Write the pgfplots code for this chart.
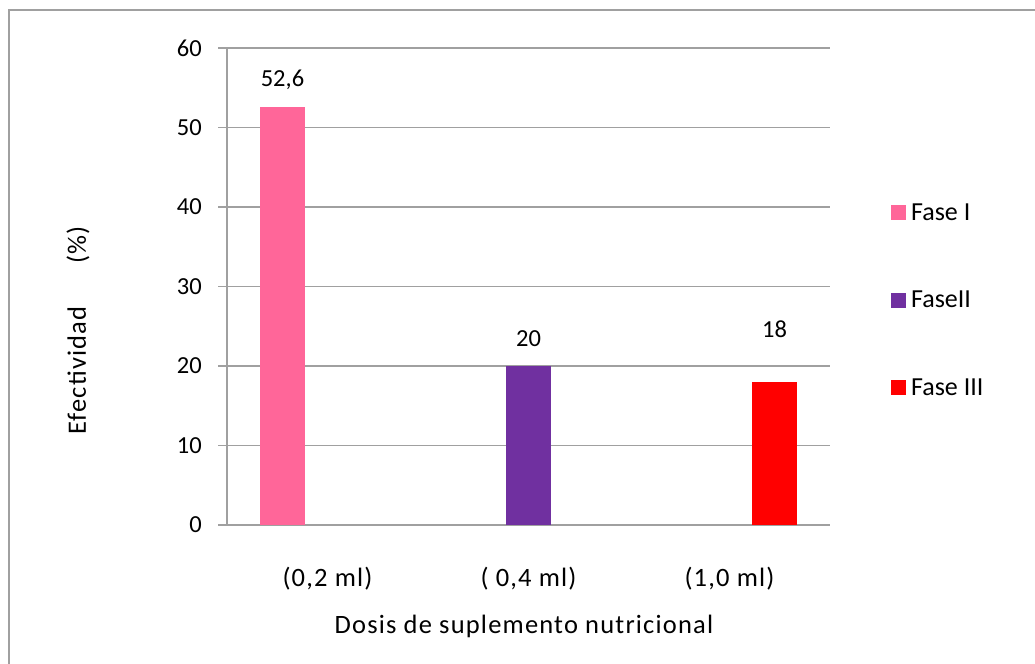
\documentclass[border=0pt]{standalone}
\usepackage{pgfplots}
\pgfplotsset{compat=1.18}
\usepackage{fontspec}
\setmainfont{Carlito}
\newfontfamily\spacedfont{Carlito}[LetterSpace=4.5]
\definecolor{faseI}{RGB}{255,102,153}
\definecolor{faseII}{RGB}{112,48,160}
\definecolor{faseIII}{RGB}{255,0,0}
\definecolor{gridgray}{RGB}{160,160,160}
\newcommand{\numfont}{\fontsize{24.5bp}{28bp}\selectfont}
\newcommand{\txtfont}{\spacedfont\fontsize{26.5bp}{30bp}\selectfont}
\newcommand{\legfont}{\fontsize{26bp}{30bp}\selectfont}
\begin{document}
\begin{tikzpicture}[x=1bp,y=1bp]
\useasboundingbox (0,0) rectangle (1035,664);
% outer chart border (top and left edges)
\draw[gridgray, line width=1.5bp] (9,0) -- (9,654) -- (1035,654);
\begin{axis}[
  at={(227bp,139bp)}, anchor=south west,
  scale only axis, width=603bp, height=477bp,
  xmin=-0.5, xmax=2.5, ymin=0, ymax=60,
  ytick={0,10,...,60},
  xtick={0,1,2},
  xticklabels={(0,2 ml),( 0,4 ml),(1,0 ml)},
  axis x line*=bottom, axis y line*=left,
  axis line style={gridgray, line width=1.2bp, -},
  ymajorgrids, grid style={gridgray, line width=1.2bp},
  tick align=outside, major tick length=9bp,
  ytick style={gridgray, line width=1.2bp},
  xtick style={draw=none},
  /pgf/number format/assume math mode=true,
  /pgf/number format/use comma,
  yticklabel style={font=\numfont, text=black, anchor=east, inner sep=0pt, xshift=-16bp},
  xticklabel style={font=\txtfont, text=black, anchor=center, inner sep=0pt, yshift=-45bp},
  ybar=0pt, bar width=45bp,
  nodes near coords,
  every node near coord/.append style={font=\numfont, anchor=center, yshift=27bp, text=black},
  xlabel={Dosis de suplemento nutricional},
  ylabel={Efectividad\hspace{1.6em}(\%)},
  every axis x label/.style={at={(axis description cs:0.4925,-0.212)}, anchor=center, font=\txtfont},
  every axis y label/.style={at={(axis description cs:-0.247,0.408)}, anchor=center, rotate=90, font=\txtfont},
  legend style={at={(axis description cs:1.101,0.471)}, anchor=west, draw=none, fill=none,
    inner sep=0pt, font=\legfont, row sep=65.5bp, cells={anchor=west},
    /tikz/every odd column/.append style={column sep=3bp}},
  legend image code/.code={\fill[#1] (0bp,-7.5bp) rectangle (15bp,7.5bp);},
]
\addplot[fill=faseI, draw=none] coordinates {(0,52.6)};
\addlegendentry{Fase I}
\addplot[fill=faseII, draw=none] coordinates {(1,20)};
\addlegendentry{FaseII}
\addplot[fill=faseIII, draw=none, every node near coord/.append style={yshift=26bp}] coordinates {(2,18)};
\addlegendentry{Fase III}
\end{axis}
\end{tikzpicture}
\end{document}
